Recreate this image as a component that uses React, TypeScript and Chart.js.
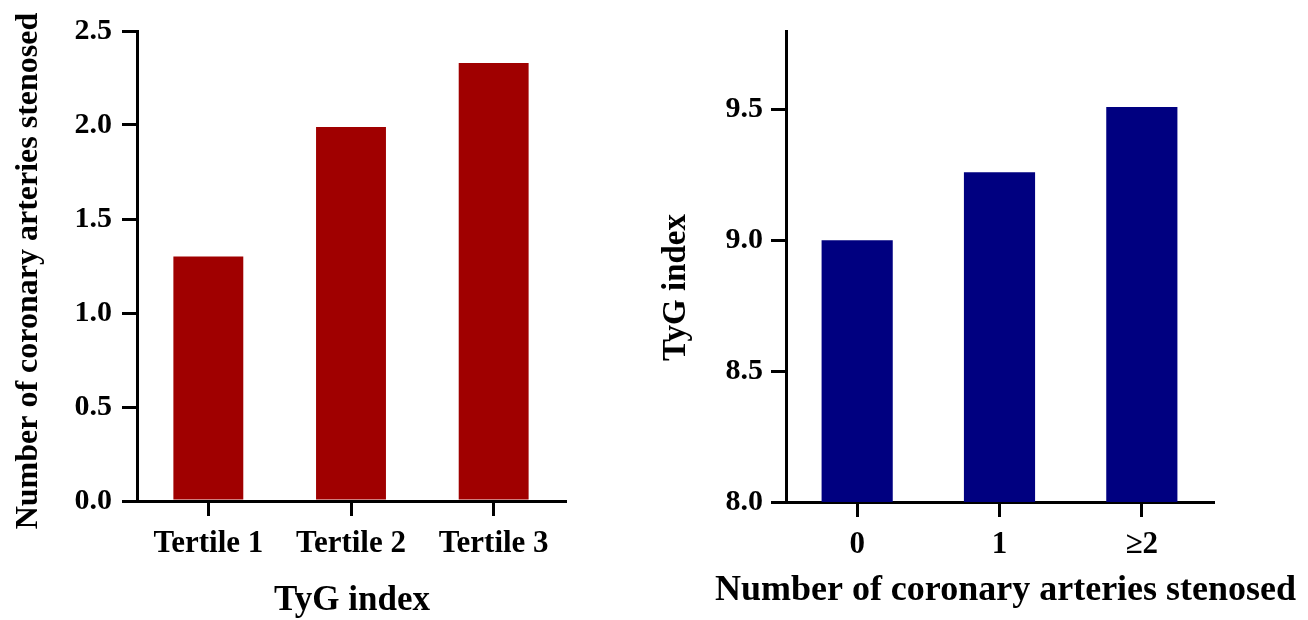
import React, { useEffect, useRef } from "react";
import { Chart, registerables } from "chart.js";

Chart.register(...registerables);

const leftCategories = ["Tertile 1", "Tertile 2", "Tertile 3"];
const leftValues = [1.3, 1.99, 2.33];
const rightCategories = ["0", "1", "≥2"];
const rightValues = [9.0, 9.26, 9.51];

const FONT = "'Liberation Serif', 'Times New Roman', serif";

// Draws axis titles freely (not limited to the scale's width), relative to the chart area.
const freeTitles = {
  id: "freeTitles",
  afterDraw(chart: any, _args: any, opts: any) {
    const items = opts && opts.items ? opts.items : [];
    const { ctx, chartArea } = chart;
    for (const it of items) {
      ctx.save();
      ctx.fillStyle = "#000";
      ctx.font = `bold ${it.size}px ${FONT}`;
      ctx.textAlign = "center";
      ctx.textBaseline = "alphabetic";
      const cx = (chartArea.left + chartArea.right) / 2 + (it.dx || 0);
      const cy = (chartArea.top + chartArea.bottom) / 2 + (it.dy || 0);
      if (it.axis === "x") {
        ctx.fillText(it.text, cx, it.baseline);
      } else {
        ctx.translate(it.baseline, cy);
        ctx.rotate(-Math.PI / 2);
        ctx.fillText(it.text, 0, 0);
      }
      ctx.restore();
    }
  },
};

function makeConfig(opts: any) {
  const {
    labels, values, color, barPct, yMin, yMax, yMaxTick, xTitle, yTitle,
    yWidth, xHeight, padRight, yTickPad, free,
  } = opts;
  return {
    type: "bar",
    data: {
      labels,
      datasets: [
        {
          data: values,
          backgroundColor: color,
          borderWidth: 0,
          categoryPercentage: 1,
          barPercentage: barPct,
        },
      ],
    },
    plugins: [freeTitles],
    options: {
      responsive: false,
      animation: false,
      events: [],
      layout: { padding: { top: 31, left: 0, right: padRight, bottom: 0 } },
      plugins: {
        legend: { display: false },
        tooltip: { enabled: false },
        freeTitles: { items: free },
      },
      scales: {
        x: {
          offset: true,
          grid: {
            offset: false,
            drawOnChartArea: false,
            drawTicks: true,
            tickLength: 15,
            color: "#000",
            lineWidth: 3,
          },
          border: { display: true, color: "#000", width: 3 },
          ticks: {
            color: "#000",
            padding: 9,
            font: { family: FONT, size: 31, weight: "bold" },
            maxRotation: 0,
          },
          title: { display: false, text: xTitle },
          afterFit: (s: any) => {
            s.height = xHeight;
          },
        },
        y: {
          min: yMin,
          max: yMax,
          grid: {
            drawOnChartArea: false,
            drawTicks: true,
            tickLength: 15,
            color: "#000",
            lineWidth: 3,
          },
          border: { display: true, color: "#000", width: 3 },
          ticks: {
            stepSize: 0.5,
            color: "#000",
            padding: yTickPad,
            font: { family: FONT, size: 30, weight: "bold" },
            callback: (v: any) => Number(v).toFixed(1),
          },
          afterBuildTicks: (s: any) => {
            s.ticks = s.ticks.filter((t: any) => t.value <= yMaxTick + 1e-9);
          },
          title: { display: false, text: yTitle },
          afterFit: (s: any) => {
            s.width = yWidth;
          },
        },
      },
    },
  };
}

function BarChart(props: any) {
  const ref = useRef<HTMLCanvasElement | null>(null);
  useEffect(() => {
    if (!ref.current) return;
    const chart = new Chart(ref.current, makeConfig(props) as any);
    return () => chart.destroy();
  }, []);
  return (
    <canvas
      ref={ref}
      width={props.w}
      height={620}
      style={{ position: "absolute", left: props.left, top: 0, width: props.w, height: 620 }}
    />
  );
}

export default function App() {
  return (
    <div style={{ position: "absolute", left: 0, top: 0, width: 1308, height: 620, background: "#fff" }}>
      <BarChart
        left={0}
        w={600}
        labels={leftCategories}
        values={leftValues}
        color="#a00000"
        barPct={0.49}
        yMin={0}
        yMax={2.5}
        yMaxTick={2.5}
        xTitle="TyG index"
        yTitle="Number of coronary arteries stenosed"
        yWidth={137}
        xHeight={119}
        padRight={35}
        yTickPad={10}
        free={[
          { axis: "x", text: "TyG index", size: 35, baseline: 610, dx: 1 },
          { axis: "y", text: "Number of coronary arteries stenosed", size: 32, baseline: 37, dy: 5 },
        ]}
      />
      <BarChart
        left={640}
        w={668}
        labels={rightCategories}
        values={rightValues}
        color="#000080"
        barPct={0.5}
        yMin={8}
        yMax={9.8}
        yMaxTick={9.5}
        xTitle="Number of coronary arteries stenosed"
        yTitle="TyG index"
        yWidth={146}
        xHeight={118}
        padRight={95}
        yTickPad={8}
        free={[
          { axis: "x", text: "Number of coronary arteries stenosed", size: 36, baseline: 600, dx: 6 },
          { axis: "y", text: "TyG index", size: 33, baseline: 45, dy: 21 },
        ]}
      />
    </div>
  );
}
